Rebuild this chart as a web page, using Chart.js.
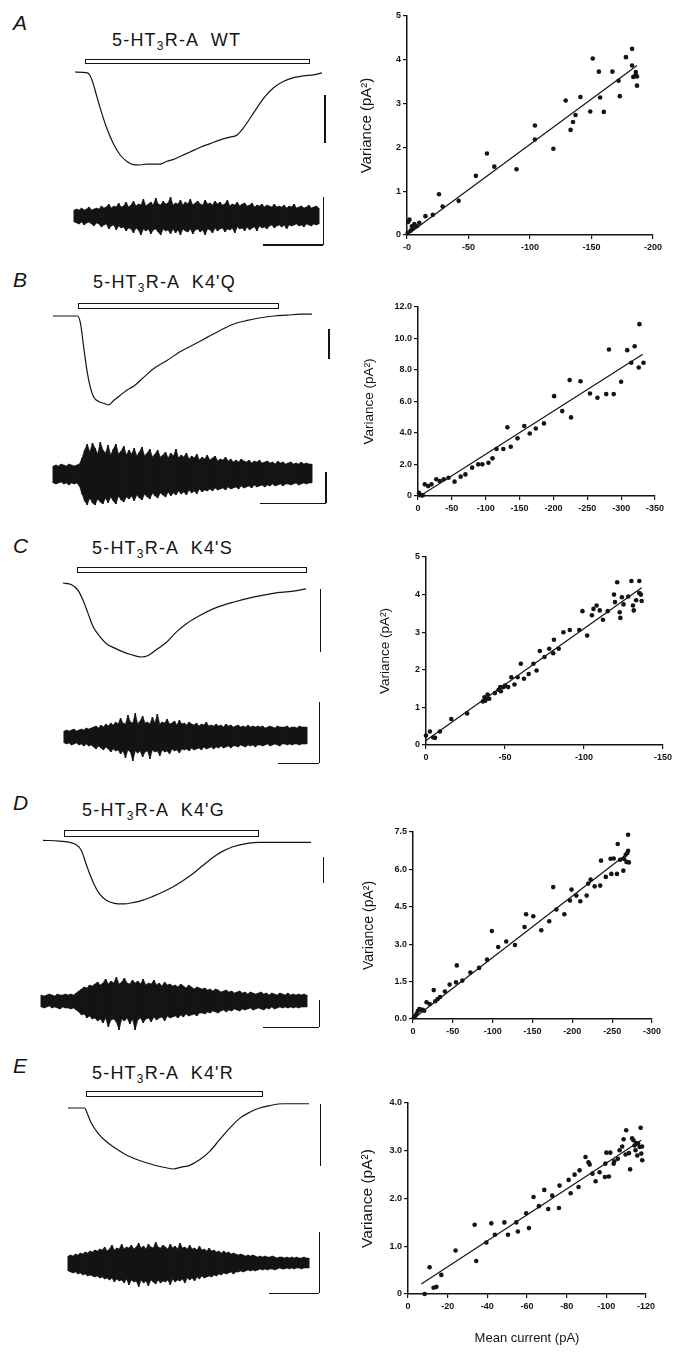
<!DOCTYPE html>
<html>
<head>
<meta charset="utf-8">
<script src="https://cdn.jsdelivr.net/npm/chart.js@4.4.1/dist/chart.umd.min.js"></script>
<style>
body { margin: 0; background: #fff; }
#fig { position: relative; width: 683px; height: 1358px; overflow: hidden; background: #fff;
       font-family: "Liberation Sans", Arial, sans-serif; color: #141414; }
#fig canvas { position: absolute; }
.lab { position: absolute; font-size: 21px; line-height: 21px; font-style: italic; }
.ttl { position: absolute; font-size: 18px; line-height: 18px; letter-spacing: 1.2px; white-space: pre; }
.ttl span { font-size: 12px; position: relative; top: 4px; }
.bar { position: absolute; border: 1px solid #141414; box-sizing: border-box; background: #fff; }
.sb { position: absolute; background: #141414; }
</style>
</head>
<body>
<div id="fig"></div>
<script>
// ---- A : WT ----
const aTraceT = [0,5,6.8,8.8,10.8,12.8,15.5,18.2,20.9,23.6,26.4,29.1,31.8,34.5,37.2,39.9,43.2,46.6,50.7,54.7,58.8,62.8,65.5,68.2,72.3,76.4,80.4,84.5,88.5,92.6,96.6,100];
const aTraceI = [0,-0.01,-0.08,-0.26,-0.44,-0.6,-0.77,-0.89,-0.96,-0.996,-1,-0.99,-0.99,-0.99,-0.96,-0.94,-0.9,-0.86,-0.81,-0.77,-0.73,-0.7,-0.68,-0.6,-0.44,-0.28,-0.17,-0.1,-0.06,-0.04,-0.03,-0.01];
const aNoiseUp = [6,7,6,8,6,7,9,6,7,8, 7,10,8,9,12,8,10,9,13,9, 10,14,9,11,15,10,12,11,17,10, 12,14,11,18,12,11,15,12,13,19,
  11,13,12,16,11,14,12,17,11,13, 15,12,11,16,12,13,11,15,12,14, 11,12,16,10,12,11,14,10,12,13, 10,11,13,9,11,10,12,9,11,10,
  9,12,9,10,9,11,8,10,9,12, 8,9,10,8,9,11,8,9,10,8];
const aNoiseDown = [-6,-7,-8,-6,-9,-7,-6,-8,-10,-7, -8,-11,-9,-8,-13,-10,-9,-14,-10,-12, -11,-15,-12,-13,-17,-12,-14,-19,-13,-15,
  -13,-18,-14,-13,-16,-19,-13,-15,-14,-18, -13,-17,-14,-19,-13,-15,-16,-13,-18,-14, -13,-16,-14,-19,-13,-14,-17,-12,-15,-13,
  -12,-16,-13,-14,-12,-17,-11,-13,-12,-15, -11,-14,-12,-11,-15,-10,-12,-11,-13,-10, -9,-12,-10,-9,-11,-9,-13,-9,-10,-9,
  -8,-10,-9,-11,-8,-9,-10,-8,-9,-8];
const aCurrent = [-0.5,-1,-2,-3,-4,-5,-6,-8,-10,-15,-21,-26,-29,-42,-56,-65,-71,-89,-104,-104,-119,-129,-133,-135,-137,-141,-149,-151,-156,-157,-160,-167,-172,-173,-178,-183,-183,-184,-186,-186,-187,-187];
const aVariance = [0.05,0.3,0.35,0.1,0.2,0.15,0.25,0.2,0.28,0.43,0.46,0.93,0.65,0.78,1.35,1.86,1.56,1.5,2.5,2.18,1.97,3.07,2.4,2.58,2.74,3.15,2.82,4.03,3.73,3.14,2.81,3.73,3.52,3.17,4.06,4.25,3.87,3.61,3.66,3.72,3.62,3.41];
const aFitX = [0,-187];
const aFitY = [0,3.87];
const aXTicks = [0,-50,-100,-150,-200];
const aXLabels = ['-0','-50','-100','-150','-200'];
const aYTicks = [0,1,2,3,4,5];
const aYLabels = ['0','1','2','3','4','5'];

// ---- B : K4'Q ----
const bTraceT = [0,9.5,10.6,11.8,13.1,14.4,15.7,17.6,19.6,21.5,23.4,26,28.6,31.1,35,38.9,44,49.2,54.4,59.5,64.7,69.8,75,80.2,85.3,90.4,95.6,100];
const bTraceI = [0,0,-0.08,-0.34,-0.61,-0.8,-0.91,-0.96,-0.98,-1,-0.95,-0.89,-0.83,-0.79,-0.69,-0.59,-0.5,-0.4,-0.32,-0.24,-0.16,-0.09,-0.05,-0.02,0,0.01,0.02,0.02];
const bNoiseUp = [8,9,8,10,9,8,10,9,8,9, 10,16,24,30,22,31,26,20,32,24, 21,29,19,25,30,20,23,28,19,24, 20,26,18,22,27,18,21,25,17,20,
  24,17,19,22,16,21,18,25,16,19, 17,21,15,18,16,20,14,17,15,19, 14,16,18,13,15,14,17,13,15,12, 14,12,15,13,12,14,11,13,12,14,
  11,12,13,11,12,10,13,11,12,10, 11,12,10,11,10,12,10,11,10,10];
const bNoiseDown = [-9,-10,-9,-8,-10,-9,-11,-9,-10,-9, -12,-20,-27,-31,-24,-29,-31,-25,-28,-30, -24,-29,-23,-27,-30,-22,-26,-28,-23,-25,
  -22,-27,-21,-24,-26,-20,-23,-25,-19,-22, -24,-19,-21,-23,-18,-22,-19,-21,-17,-20, -18,-21,-16,-19,-17,-20,-15,-18,-16,-17,
  -15,-17,-14,-16,-15,-14,-16,-13,-15,-14, -13,-15,-12,-14,-13,-12,-14,-11,-13,-12, -11,-13,-11,-12,-10,-12,-11,-10,-12,-10,
  -10,-11,-10,-9,-11,-10,-9,-10,-9,-9];
const bCurrent = [-1.5,-2.5,-5,-7,-10,-15,-20,-27,-32,-38,-45,-54,-63,-70,-80,-89,-95,-104,-110,-116,-126,-132,-137,-147,-157,-165,-174,-186,-201,-213,-224,-226,-240,-254,-265,-278,-282,-289,-300,-309,-315,-320,-326,-327,-333];
const bVariance = [0.21,0.06,0.04,0.04,0.74,0.63,0.74,1.06,0.95,1.06,1.16,0.91,1.23,1.37,1.8,2.01,2.01,2.11,2.39,2.98,2.98,4.36,3.13,3.66,4.44,3.97,4.29,4.61,6.34,5.39,7.36,4.99,7.29,6.51,6.24,6.47,9.3,6.47,7.25,9.26,8.46,9.51,8.16,10.91,8.46];
const bFitX = [-3,-332];
const bFitY = [0,9.0];
const bXTicks = [0,-50,-100,-150,-200,-250,-300,-350];
const bXLabels = ['0','-50','-100','-150','-200','-250','-300','-350'];
const bYTicks = [0,2,4,6,8,10,12];
const bYLabels = ['0','2.0','4.0','6.0','8.0','10.0','12.0'];

// ---- C : K4'S ----
const cTraceT = [0,3.4,6.2,8.2,10.3,12.4,15.1,17.9,21.3,24.7,28.2,32.3,35,38.5,42.6,46.7,50.8,56.3,61.8,70,78.3,86.5,94.8,100];
const cTraceI = [0,-0.02,-0.1,-0.23,-0.41,-0.59,-0.72,-0.82,-0.88,-0.93,-0.97,-1,-0.98,-0.9,-0.8,-0.66,-0.55,-0.44,-0.35,-0.26,-0.19,-0.14,-0.11,-0.08];
const cNoiseUp = [6,7,6,7,8,6,7,8,7,9, 8,9,10,11,9,12,10,13,11,14, 12,15,13,19,14,13,22,15,14,24, 13,16,21,14,15,13,20,14,23,13,
  15,14,18,13,14,16,12,17,13,14, 12,15,13,12,14,11,13,12,15,11, 12,11,13,11,12,10,13,11,12,10, 11,12,10,11,10,12,10,11,10,11,
  10,11,9,10,11,10,9,11,10,10, 10,11,9,10,10,9,11,10,10,10];
const cNoiseDown = [-6,-7,-6,-8,-7,-6,-8,-7,-9,-7, -9,-8,-10,-12,-9,-11,-13,-10,-12,-15, -12,-14,-13,-17,-14,-21,-13,-15,-24,-14,
  -16,-14,-20,-15,-14,-22,-13,-15,-14,-19, -13,-15,-14,-17,-12,-14,-13,-16,-12,-13, -12,-14,-11,-13,-12,-11,-13,-10,-12,-11,
  -10,-12,-10,-11,-9,-11,-10,-9,-11,-9, -9,-10,-8,-9,-10,-8,-9,-8,-10,-8, -8,-9,-8,-7,-9,-8,-7,-8,-9,-7,
  -7,-8,-7,-8,-7,-7,-8,-7,-7,-7];
const cCurrent = [0,-2.5,-4.6,-5.7,-8.8,-16,-26,-36,-37,-37.5,-38,-39,-40,-43.6,-46,-47,-47.4,-49,-50,-52,-54,-56,-58,-60,-62,-65,-68,-70,-72,-75,-78,-80.5,-81,-84,-87,-91,-97,-99,-102,-105,-106,-108,-110,-112,-115,-119,-119.6,-121,-122.6,-123,-124,-125,-128,-130,-131,-131.5,-133,-135,-135,-136,-136.5];
const cVariance = [0.25,0.36,0.2,0.19,0.36,0.69,0.84,1.16,1.27,1.18,1.23,1.34,1.23,1.38,1.47,1.54,1.43,1.54,1.58,1.54,1.8,1.61,1.8,2.16,1.76,1.89,2.16,1.98,2.5,2.34,2.56,2.44,2.8,2.56,3.0,3.06,3.06,3.56,2.91,3.45,3.62,3.71,3.58,3.33,3.56,4.0,3.8,4.33,3.53,3.38,3.93,3.74,3.95,4.36,3.71,3.58,3.85,4.36,4.04,4.0,3.83];
const cFitX = [0,-136.5];
const cFitY = [0.12,4.18];
const cXTicks = [0,-50,-100,-150];
const cXLabels = ['0','-50','-100','-150'];
const cYTicks = [0,1,2,3,4,5];
const cYLabels = ['0','1','2','3','4','5'];

// ---- D : K4'G ----
const dTraceT = [0,6.2,12.4,14.3,15.9,17.4,19.3,21.1,23.6,26.7,29.8,33.5,37.3,41,44.7,48.4,52.2,55.9,59.6,63.4,67.1,70.8,75.8,80.7,87,93.2,100];
const dTraceI = [0.01,0,-0.06,-0.15,-0.34,-0.52,-0.71,-0.84,-0.94,-0.99,-1,-0.98,-0.94,-0.88,-0.81,-0.73,-0.63,-0.52,-0.39,-0.26,-0.16,-0.09,-0.04,-0.02,-0.02,-0.02,-0.02];
const dNoiseUp = [6,5,6,7,6,5,7,6,6,7, 6,7,6,8,10,12,14,13,16,15, 17,19,16,18,22,17,20,18,24,17, 19,23,18,17,21,18,20,17,22,16,
  18,17,21,16,18,15,19,16,17,15, 16,14,17,15,13,16,14,12,14,13, 12,13,11,12,10,12,11,9,10,11, 9,10,8,9,10,8,9,7,9,8,
  7,8,9,7,8,6,8,7,6,8, 7,6,8,6,7,6,7,6,7,6];
const dNoiseDown = [-6,-7,-6,-5,-7,-6,-7,-8,-6,-7, -7,-8,-7,-9,-11,-14,-13,-17,-15,-18, -17,-20,-18,-22,-17,-26,-19,-18,-21,-29,
  -18,-20,-17,-23,-18,-29,-19,-17,-22,-18, -17,-21,-16,-19,-17,-16,-20,-15,-17,-16, -15,-17,-14,-16,-13,-15,-14,-13,-15,-12,
  -12,-13,-11,-12,-10,-11,-12,-10,-9,-11, -9,-10,-8,-9,-10,-8,-9,-8,-7,-9, -8,-7,-8,-9,-7,-8,-6,-8,-7,-6,
  -7,-6,-7,-6,-7,-6,-7,-6,-6,-6];
const dCurrent = [-1.2,-3,-4.6,-6,-8,-10,-12,-14,-17,-21,-26,-28,-31,-34,-40,-46,-54,-55,-62,-72,-83,-93,-99,-107,-117,-128,-140,-142,-151,-161,-171,-176,-180,-190,-197,-199,-205,-210,-218,-220,-223,-228,-235,-236,-242,-248,-249,-252,-256,-257,-260,-264,-265,-267,-269,-270,-268,-270,-271];
const dVariance = [0.07,0.13,0.21,0.32,0.4,0.37,0.37,0.33,0.67,0.6,1.16,0.71,0.8,0.88,1.1,1.38,1.47,2.15,1.54,1.86,2.05,2.38,3.53,2.89,3.11,2.97,3.69,4.2,4.12,3.56,3.92,5.29,4.39,4.2,4.75,5.19,4.95,4.72,4.95,5.43,5.59,5.32,5.35,6.35,5.7,6.43,5.82,6.44,5.82,7.02,6.39,5.95,6.42,6.59,6.66,6.75,6.3,7.39,6.28];
const dFitX = [0,-270];
const dFitY = [0,6.66];
const dXTicks = [0,-50,-100,-150,-200,-250,-300];
const dXLabels = ['0','-50','-100','-150','-200','-250','-300'];
const dYTicks = [0,1.5,3,4.5,6,7.5];
const dYLabels = ['0.0','1.5','3.0','4.5','6.0','7.5'];

// ---- E : K4'R ----
const eTraceT = [0,6.9,7.9,9.7,12.4,15.9,20,24.2,29.7,35.3,40.8,43.6,47,50.5,54.6,58.8,62.9,67.1,71.2,75.4,79.5,83.7,89.2,94.7,100];
const eTraceI = [0,0,-0.08,-0.25,-0.41,-0.55,-0.67,-0.77,-0.86,-0.93,-0.98,-1,-0.97,-0.94,-0.85,-0.71,-0.52,-0.33,-0.17,-0.07,0,0.04,0.07,0.07,0.07];
const eNoiseUp = [7,8,7,9,8,10,9,11,10,12, 11,13,12,14,13,16,12,14,18,13, 15,14,19,14,16,15,18,14,16,20, 15,17,14,19,16,15,21,16,15,18,
  16,14,19,15,17,14,20,15,16,14, 18,14,15,13,17,13,14,12,15,12, 13,11,12,10,12,10,11,9,10,9, 8,9,8,7,8,7,8,7,6,7,
  6,7,6,6,7,6,5,6,6,5, 6,5,6,5,6,5,5,6,5,5];
const eNoiseDown = [-8,-9,-10,-9,-11,-10,-12,-11,-13,-12, -13,-14,-13,-15,-14,-16,-15,-17,-15,-19, -16,-18,-17,-20,-16,-22,-17,-19,-18,-24,
  -17,-20,-18,-23,-17,-19,-21,-17,-20,-18, -19,-17,-22,-16,-19,-17,-18,-16,-20,-15, -17,-15,-18,-14,-16,-13,-15,-14,-13,-14,
  -12,-13,-11,-12,-10,-11,-10,-9,-11,-9, -9,-8,-9,-8,-7,-8,-7,-8,-7,-6, -7,-6,-7,-6,-6,-7,-6,-5,-6,-6,
  -5,-6,-5,-6,-5,-5,-6,-5,-5,-5];
const eCurrent = [-8.4,-10.9,-12.9,-14.3,-16.8,-24,-33.6,-34.4,-39.5,-42,-43.8,-48.6,-50.4,-54.6,-55.4,-59.6,-61,-63.3,-66,-68.7,-70.7,-72.7,-76.4,-76.1,-81,-82,-84,-86,-86.5,-89.5,-91,-91.6,-93,-94.6,-96.6,-99.3,-99.5,-100,-101.3,-102,-103.7,-104,-105.8,-106.7,-108,-108.7,-109.7,-110,-111.4,-112,-113,-113.7,-114.2,-114.7,-115,-115.6,-116,-116.8,-117.3,-117.6,-118,-118.1];
const eVariance = [0,0.56,0.13,0.15,0.4,0.91,1.45,0.69,1.08,1.48,1.24,1.5,1.24,1.5,1.31,1.69,1.38,2.03,1.84,2.18,1.78,2.06,2.27,1.8,2.39,2.11,2.5,2.24,2.59,2.87,2.76,2.71,2.52,2.36,2.55,2.45,2.73,2.96,2.46,2.96,2.73,2.78,2.83,3.01,3.09,3.24,2.92,3.43,2.95,2.61,3.26,3.22,3.11,3.01,3.16,2.9,3.15,3.08,3.48,2.94,3.09,2.8];
const eFitX = [-6.7,-117.6];
const eFitY = [0.21,3.22];
const eXTicks = [0,-20,-40,-60,-80,-100,-120];
const eXLabels = ['0','-20','-40','-60','-80','-100','-120'];
const eYTicks = [0,1,2,3,4];
const eYLabels = ['0','1.0','2.0','3.0','4.0'];

const ink = '#141414';
const fam = '"Liberation Sans", Arial, sans-serif';
const fig = document.getElementById('fig');

// where each panel sits on the page
const panels = [
  { letter: 'A', lx: 13, lcap: 15, name: 'WT', tx: 112, tcap: 33,
    bar: [85, 59, 310, 64], trace: [75, 322, 72.3, 165], sbar: [325, 95, 143],
    noise: [72.7, 319.3, 216], lbar: [323.3, 197, 245, 263],
    sc: [406.5, 652, 16, 235], ytx: 366, ts: 15,
    t: aTraceT, i: aTraceI, up: aNoiseUp, dn: aNoiseDown, mx: aCurrent, vy: aVariance,
    fx: aFitX, fy: aFitY, xt: aXTicks, xl: aXLabels, yt: aYTicks, yl: aYLabels },
  { letter: 'B', lx: 13, lcap: 271.7, name: "K4'Q", tx: 93, tcap: 275,
    bar: [78, 302.7, 279, 309.3], trace: [52.7, 311.7, 315.7, 405], sbar: [329, 329, 359],
    noise: [52, 313, 474], lbar: [326, 471.7, 503.3, 260],
    sc: [418, 655, 306.7, 496], ytx: 369, ts: 13.5,
    t: bTraceT, i: bTraceI, up: bNoiseUp, dn: bNoiseDown, mx: bCurrent, vy: bVariance,
    fx: bFitX, fy: bFitY, xt: bXTicks, xl: bXLabels, yt: bYTicks, yl: bYLabels },
  { letter: 'C', lx: 13, lcap: 538, name: "K4'S", tx: 92, tcap: 541.7,
    bar: [77, 567, 307, 573], trace: [63.3, 306, 582.7, 656.7], sbar: [320.7, 589, 651.7],
    noise: [62.7, 307.3, 736.7], lbar: [319.3, 701.7, 763.3, 278],
    sc: [426, 663.3, 556.7, 744.3], ytx: 385, ts: 13.5,
    t: cTraceT, i: cTraceI, up: cNoiseUp, dn: cNoiseDown, mx: cCurrent, vy: cVariance,
    fx: cFitX, fy: cFitY, xt: cXTicks, xl: cXLabels, yt: cYTicks, yl: cYLabels },
  { letter: 'D', lx: 13, lcap: 795, name: "K4'G", tx: 82, tcap: 803,
    bar: [64, 830, 259, 836.7], trace: [43.3, 311.7, 840.7, 903.3], sbar: [323.3, 856.7, 883.3],
    noise: [40, 308.3, 1000.7], lbar: [319.3, 1000, 1027.3, 263],
    sc: [413, 651.7, 832.3, 1019.3], ytx: 369, ts: 14,
    t: dTraceT, i: dTraceI, up: dNoiseUp, dn: dNoiseDown, mx: dCurrent, vy: dVariance,
    fx: dFitX, fy: dFitY, xt: dXTicks, xl: dXLabels, yt: dYTicks, yl: dYLabels },
  { letter: 'E', lx: 13, lcap: 1058, name: "K4'R", tx: 92, tcap: 1066.7,
    bar: [86, 1090.7, 263.3, 1096.7], trace: [68.3, 309.3, 1108.3, 1169.3], sbar: [320.7, 1104, 1166],
    noise: [66.7, 309.3, 1262.7], lbar: [319.3, 1231.7, 1293.3, 269],
    sc: [408, 646.3, 1102.7, 1293.3], ytx: 368, ts: 15.5, xTitle: 'Mean current (pA)', xty: 1337.7,
    t: eTraceT, i: eTraceI, up: eNoiseUp, dn: eNoiseDown, mx: eCurrent, vy: eVariance,
    fx: eFitX, fy: eFitY, xt: eXTicks, xl: eXLabels, yt: eYTicks, yl: eYLabels }
];

function box(cls, x, y, w, h) {
  const el = document.createElement('div');
  el.className = cls;
  el.style.left = x + 'px'; el.style.top = y + 'px';
  el.style.width = w + 'px'; el.style.height = h + 'px';
  fig.appendChild(el);
  return el;
}

function makeCanvas(x, y, w, h) {
  const cv = document.createElement('canvas');
  cv.width = Math.round(w); cv.height = Math.round(h);
  cv.style.left = x + 'px'; cv.style.top = y + 'px';
  cv.style.width = Math.round(w) + 'px'; cv.style.height = Math.round(h) + 'px';
  fig.appendChild(cv);
  return cv;
}

const quiet = { animation: false, responsive: false, events: [],
  plugins: { legend: { display: false }, tooltip: { enabled: false } } };

// current trace
function drawTrace(p) {
  const [x0, x1, base, peak] = p.trace;
  const depth = peak - base;
  const pad = 100 / (x1 - x0) * 2;
  const cv = makeCanvas(x0 - 2, base - 8, x1 - x0 + 4, depth + 16);
  new Chart(cv, {
    type: 'line',
    data: { datasets: [{ data: p.t.map((v, k) => ({ x: v, y: p.i[k] })),
      borderColor: ink, borderWidth: 1.2, pointRadius: 0, cubicInterpolationMode: 'monotone', fill: false }] },
    options: Object.assign({}, quiet, { layout: { padding: 0 },
      scales: { x: { type: 'linear', display: false, min: -pad, max: 100 + pad },
                y: { display: false, min: -1 - 8 / depth, max: 8 / depth } } })
  });
}

// current noise: thin floating bar per sample (low..high) over a filled envelope
function drawNoise(p) {
  const [x0, x1, c] = p.noise;
  const cv = makeCanvas(x0, c - 35, x1 - x0, 70);
  new Chart(cv, {
    type: 'bar',
    data: { labels: p.up.map((v, k) => k),
      datasets: [
        { data: p.up.map((v, k) => [p.dn[k], v]), backgroundColor: ink, borderWidth: 0,
          categoryPercentage: 1, barPercentage: 0.6, order: 1 },
        { type: 'line', data: p.up, borderColor: ink, backgroundColor: ink, borderWidth: 0.6,
          pointRadius: 0, tension: 0, fill: '+1', order: 2 },
        { type: 'line', data: p.dn, borderColor: ink, backgroundColor: ink, borderWidth: 0.6,
          pointRadius: 0, tension: 0, fill: false, order: 3 }
      ] },
    options: Object.assign({}, quiet, { layout: { padding: 0 },
      scales: { x: { display: false }, y: { display: false, min: -35, max: 35 } } })
  });
}

// variance vs mean current
function drawScatter(p) {
  const [l, r, t, b] = p.sc;
  const yW = 60, xH = p.xTitle ? 56 : 24, padT = 8, padR = 16;
  const cx = l - yW, cy = t - padT;
  const H = b - t + padT + xH;
  const lh = p.ts * 1.2;
  const tickFont = { family: fam, size: 9, weight: 'bold' };
  const cv = makeCanvas(cx, cy, r - l + yW + padR, H);
  const xTitle = p.xTitle ? { display: true, text: p.xTitle, color: ink,
      font: { family: fam, size: 13 }, padding: { top: 0, bottom: (cy + H) - p.xty - 13 * 1.2 / 2 } } : { display: false };
  new Chart(cv, {
    type: 'scatter',
    data: { datasets: [
      { data: p.mx.map((v, k) => ({ x: v, y: p.vy[k] })), backgroundColor: ink, borderColor: ink,
        pointRadius: 2.3, pointBorderWidth: 0, clip: false },
      { data: p.fx.map((v, k) => ({ x: v, y: p.fy[k] })), showLine: true, borderColor: ink,
        borderWidth: 1.2, pointRadius: 0, clip: false }
    ] },
    options: Object.assign({}, quiet, {
      layout: { padding: { top: padT, right: padR, left: 0, bottom: 0 } },
      scales: {
        x: { type: 'linear', reverse: true, min: p.xt[p.xt.length - 1], max: 0,
          afterFit: s => { s.height = xH; },
          afterBuildTicks: s => { s.ticks = p.xt.map(v => ({ value: v })); },
          ticks: { font: tickFont, color: ink, padding: 3, maxRotation: 0,
            callback: v => p.xl[p.xt.indexOf(v)] },
          grid: { display: true, drawOnChartArea: false, drawTicks: true, tickLength: 4, color: ink, tickColor: ink, lineWidth: 1.2 },
          border: { display: true, color: ink, width: 1.5 },
          title: xTitle },
        y: { type: 'linear', min: p.yt[0], max: p.yt[p.yt.length - 1],
          afterFit: s => { s.width = yW; },
          afterBuildTicks: s => { s.ticks = p.yt.map(v => ({ value: v })); },
          ticks: { font: tickFont, color: ink, padding: 2,
            callback: v => p.yl[p.yt.indexOf(v)] },
          grid: { display: true, drawOnChartArea: false, drawTicks: true, tickLength: 4, color: ink, tickColor: ink, lineWidth: 1.2 },
          border: { display: true, color: ink, width: 1.5 },
          title: { display: true, text: 'Variance (pA\u00B2)', color: ink, font: { family: fam, size: p.ts },
            padding: { top: p.ytx - cx - lh / 2, bottom: 0 } } }
      }
    })
  });
}

panels.forEach(p => {
  const lab = document.createElement('div');
  lab.className = 'lab'; lab.textContent = p.letter;
  lab.style.left = p.lx + 'px'; lab.style.top = (p.lcap - 2.8) + 'px';
  fig.appendChild(lab);

  const ttl = document.createElement('div');
  ttl.className = 'ttl';
  ttl.innerHTML = '5-HT<span>3</span>R-A  ' + p.name;
  ttl.style.left = p.tx + 'px'; ttl.style.top = (p.tcap - 2.5) + 'px';
  fig.appendChild(ttl);

  // drug application bar
  box('bar', p.bar[0], p.bar[1], p.bar[2] - p.bar[0], p.bar[3] - p.bar[1]);
  // scale bars
  box('sb', p.sbar[0] - 0.75, p.sbar[1], 1.5, p.sbar[2] - p.sbar[1]);
  box('sb', p.lbar[0] - 0.75, p.lbar[1], 1.5, p.lbar[2] - p.lbar[1]);
  box('sb', p.lbar[3], p.lbar[2] - 0.75, p.lbar[0] - p.lbar[3], 1.5);

  drawTrace(p);
  drawNoise(p);
  drawScatter(p);
});
</script>
</body>
</html>
